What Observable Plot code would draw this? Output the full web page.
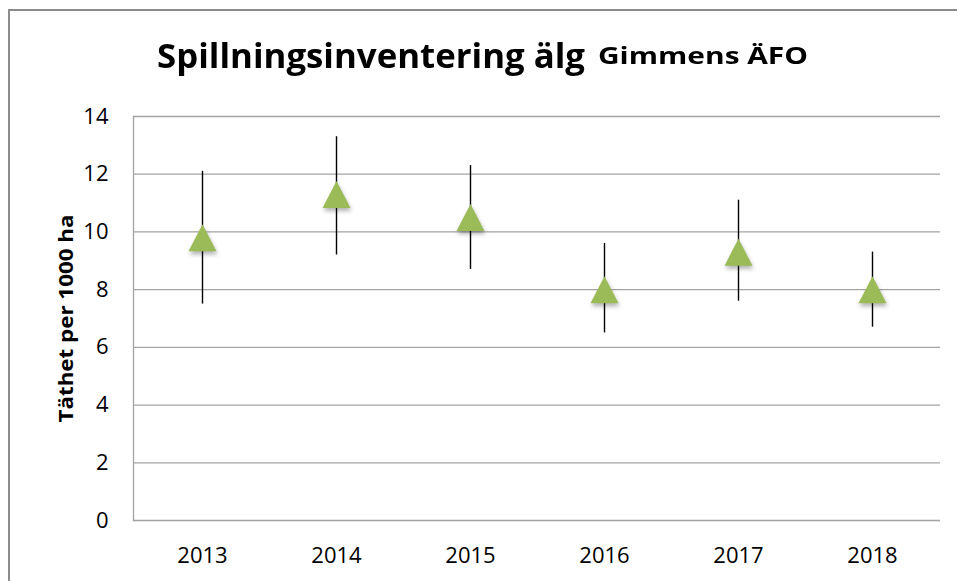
<!DOCTYPE html>
<html>
<head>
<meta charset="utf-8">
<script src="https://cdn.jsdelivr.net/npm/d3@7"></script>
<script src="https://cdn.jsdelivr.net/npm/@observablehq/plot@0.6"></script>
<style>
  html, body { margin: 0; padding: 0; background: #fff; }
  #wrap { position: relative; width: 957px; height: 581px; overflow: hidden; background: #fff; }
  #box { position: absolute; left: 8px; top: 9px; width: 1000px; height: 1000px; border: 2px solid #8c8c8c; box-sizing: border-box; }
  .t { position: absolute; top: 38px; font-family: "Open Sans", sans-serif; font-weight: bold; color: #000; line-height: 34px; white-space: nowrap; transform-origin: left center; }
  #tBig { left: 157px; font-size: 34px; }
  #tSmall { left: 598px; font-size: 23px; }
  #chart { position: absolute; left: 0; top: 0; }
  #chart g[aria-label="y-axis label"] text { font-weight: bold; font-size: 19px; }
  #chart g[aria-label="dot"] path { filter: drop-shadow(1px 3px 2px rgba(0,0,0,0.3)); }
</style>
</head>
<body>
<div id="wrap">
  <div id="box"></div>
  <div id="title">
    <span class="t" id="tBig">Spillningsinventering älg</span>
    <span class="t" id="tSmall">Gimmens ÄFO</span>
  </div>
  <div id="chart"></div>
</div>
<script>
const years = ["2013", "2014", "2015", "2016", "2017", "2018"];
const density = [9.8, 11.3, 10.5, 8.0, 9.3, 8.0];
const lower = [7.5, 9.2, 8.7, 6.5, 7.6, 6.7];
const upper = [12.1, 13.3, 12.3, 9.6, 11.1, 9.3];
const yTicks = [0, 2, 4, 6, 8, 10, 12, 14];
const yLabel = "Täthet per 1000 ha";

const data = years.map((year, i) => ({year, v: density[i], lo: lower[i], hi: upper[i]}));

// triangle centred on its bounding box (like the spreadsheet marker)
const triangle = {
  draw(ctx) {
    const w = 28, h = 27;
    ctx.moveTo(0, -h / 2);
    ctx.lineTo(w / 2, h / 2);
    ctx.lineTo(-w / 2, h / 2);
    ctx.closePath();
  }
};

const chart = Plot.plot({
  width: 957,
  height: 581,
  marginTop: 116,
  marginBottom: 61,
  marginLeft: 133,
  marginRight: 17,
  style: {fontFamily: "'Open Sans', sans-serif", fontSize: "22px", color: "#000", background: "transparent"},
  x: {type: "band", domain: years, padding: 0, tickSize: 0, tickPadding: 27, label: null},
  y: {domain: [0, 14], ticks: yTicks, tickSize: 0, tickPadding: 25, label: yLabel, labelAnchor: "center", labelOffset: 74, labelArrow: false},
  marks: [
    Plot.gridY(yTicks, {stroke: "#a3a3a3", strokeOpacity: 1, strokeWidth: 1.3}),
    Plot.frame({anchor: "left", stroke: "#a3a3a3", strokeWidth: 1.3}),
    Plot.ruleX(data, {x: "year", y1: "lo", y2: "hi", stroke: "#000", strokeWidth: 1.4}),
    Plot.dot(data, {x: "year", y: "v", symbol: triangle, fill: "#9BBB59", stroke: "none", r: 10})
  ]
});
document.getElementById("chart").appendChild(chart);

// fit the narrow spreadsheet font widths
function fit(el, target) {
  const w = el.getBoundingClientRect().width;
  el.style.transform = `scaleX(${target / w})`;
}
fit(document.getElementById("tBig"), 428);
fit(document.getElementById("tSmall"), 210);
const lab = chart.querySelector('g[aria-label="y-axis label"] text');
if (lab) {
  lab.setAttribute("textLength", 208);
  lab.setAttribute("lengthAdjust", "spacingAndGlyphs");
}
</script>
</body>
</html>
